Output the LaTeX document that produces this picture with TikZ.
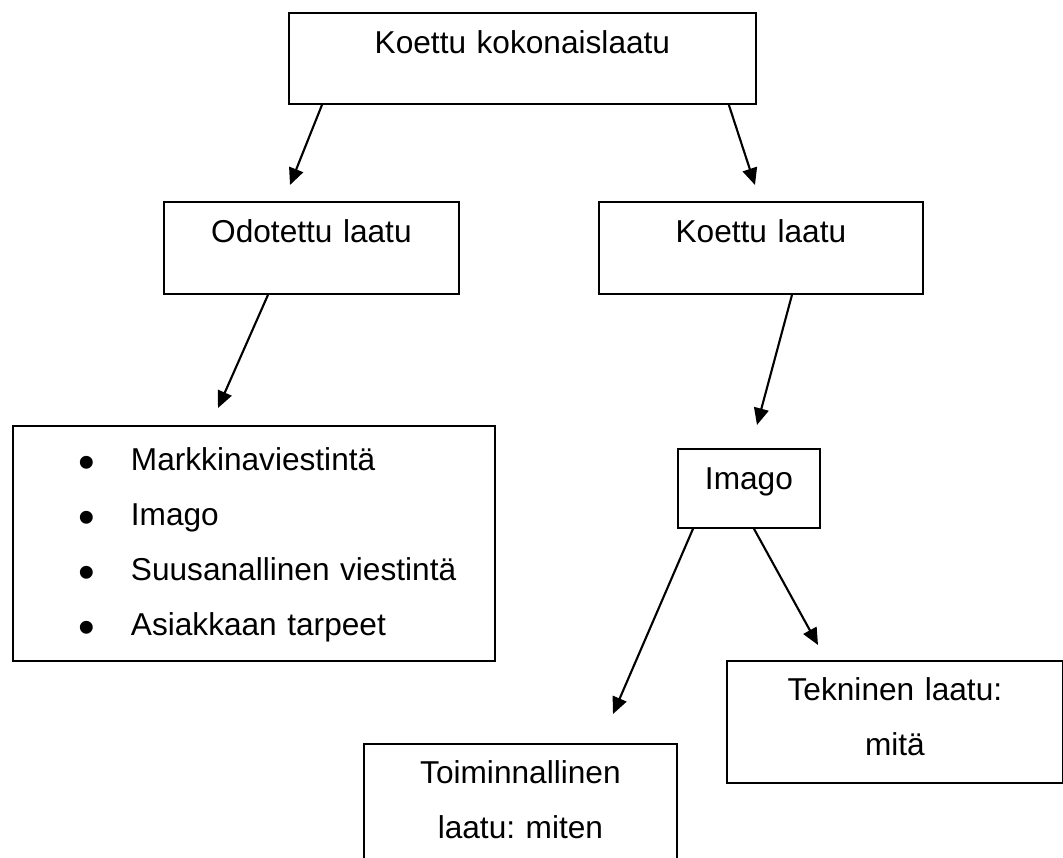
\documentclass[tikz,border=0pt]{standalone}
\usepackage{fontspec}
\setmainfont{Liberation Sans}
\usetikzlibrary{arrows.meta}
\frenchspacing

% bullet line for the list box
\newcommand{\bul}[1]{\hspace*{1.65cm}\makebox[1.3cm][l]{\raisebox{-0.25em}{\scalebox{1.5}{•}}}#1}

\begin{document}
\begin{tikzpicture}[
        % --- Box styles ---
        box/.style={
            draw, line width=1.3pt, anchor=north west, inner sep=0pt,
            align=center, font=\fontsize{22.5}{39.1}\selectfont
        },
        listbox/.style={
            box, align=left
        },
        % --- Arrow style ---
        arr/.style={
            line width=1.5pt, -{Triangle[length=0.42cm, width=0.37cm]}
        },
    ]

    % ===== Page (1 px = 0.025 cm) =====
    \useasboundingbox (0,0) rectangle (26.575,-21.45);
    \clip (0,0) rectangle (26.575,-21.45);

    % ===== Level 1 =====
    \node[box, text width=11.675cm, text height=1.025cm, text depth=1.25cm] (kokonais) at (7.2,-0.3) {Koettu kokonaislaatu};

    % ===== Level 2 =====
    \node[box, text width=7.375cm, text height=1.025cm, text depth=1.275cm] (odotettu) at (4.075,-5.025) {Odotettu laatu};
    \node[box, text width=8.1cm, text height=1.025cm, text depth=1.275cm] (koettu) at (14.95,-5.025) {Koettu laatu};

    % ===== Level 3 =====
    \node[listbox, text width=12.05cm, text height=1.125cm, text depth=4.75cm] (tekijat) at (0.3,-10.625)
        {\bul{Markkinaviestintä}\\ \bul{Imago}\\ \bul{Suusanallinen viestintä}\\ \bul{Asiakkaan tarpeet}};
    \node[box, text width=3.55cm, text height=1.025cm, text depth=0.95cm] (imago) at (16.925,-11.2) {Imago};

    % ===== Level 4 =====
    \node[box, text width=8.4cm, text height=1.0cm, text depth=2.05cm] (tekninen) at (18.15,-16.5) {Tekninen laatu:\\ mitä};
    \node[box, text width=7.825cm, text height=1.0cm, text depth=2.05cm] (toiminnallinen) at (9.075,-18.575) {Toiminnallinen\\ laatu: miten};

    % ===== Arrow tips =====
    \coordinate (t1) at (7.25,-4.625);
    \coordinate (t2) at (18.875,-4.625);
    \coordinate (t3) at (5.45,-10.2);
    \coordinate (t4) at (18.925,-10.625);
    \coordinate (t5) at (15.325,-17.85);
    \coordinate (t6) at (20.45,-16.125);

    % ===== Arrows =====
    \draw[arr] ([xshift=0.85cm]kokonais.south west) -- (t1);
    \draw[arr] ([xshift=-0.7cm]kokonais.south east) -- (t2);
    \draw[arr] ([xshift=2.625cm]odotettu.south west) -- (t3);
    \draw[arr] ([xshift=4.85cm]koettu.south west) -- (t4);
    \draw[arr] ([xshift=0.4cm]imago.south west) -- (t5);
    \draw[arr] ([xshift=1.925cm]imago.south west) -- (t6);

\end{tikzpicture}
\end{document}
